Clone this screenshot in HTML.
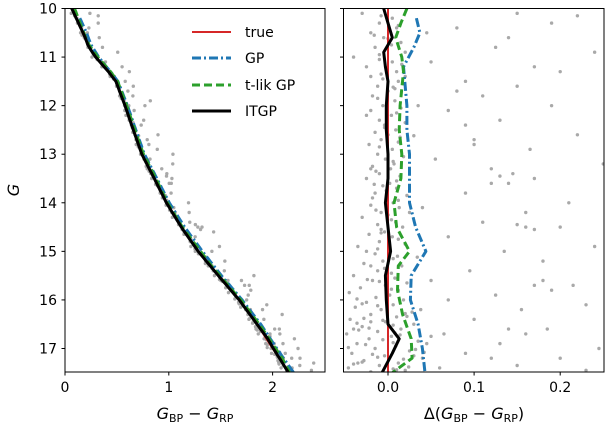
<!DOCTYPE html>
<html><head><meta charset="utf-8"><style>
html,body{margin:0;padding:0;background:#fff;}
svg{display:block;font-family:"DejaVu Sans","Liberation Sans",sans-serif;}
</style></head><body>
<svg id="chart" width="606" height="430" viewBox="0 0 606 430" xmlns="http://www.w3.org/2000/svg">
<defs>
<clipPath id="clipL"><rect x="65" y="8" width="260" height="364"/></clipPath>
<clipPath id="clipR"><rect x="343.5" y="8" width="260.5" height="364"/></clipPath>
</defs>
<g id="layer"></g>
</svg>
<script>
// Base (true) sequence: G vs colour
const baseG = [10,10.5,10.75,11,11.3,11.5,12,12.5,13,13.5,14,14.5,15,15.5,16,16.5,17,17.5];
const baseC = [0.07,0.17,0.22,0.30,0.42,0.49,0.58,0.66,0.74,0.86,0.98,1.12,1.28,1.48,1.68,1.85,2.0,2.16];
// Offsets relative to true
const trueG = [10,11,12,13,14,15,16,17,17.5];
const trueD = [0,0,0,0,0,0,0,0,0];
const itgpG = [10,10.3,10.6,10.9,11.2,11.5,12,12.5,13,13.5,14,14.5,15,15.5,16,16.5,16.8,17.1,17.5];
const itgpD = [-0.005,0.0,0.005,-0.005,-0.003,0.0,-0.002,-0.002,0.0,0.0,-0.003,0.0,0.003,-0.003,-0.002,0.0,0.013,0.005,-0.007];
const tlikG = [10,10.3,10.6,11,11.3,12,12.5,13,13.5,14,14.5,15,15.3,15.8,16.3,16.8,17.2,17.5];
const tlikD = [0.022,0.015,0.009,0.016,0.018,0.014,0.013,0.016,0.015,0.007,0.01,0.025,0.012,0.011,0.017,0.027,0.028,0.005];
const gpG = [10.2,10.5,10.8,11.2,11.6,12,12.5,13,13.5,14,14.5,15,15.5,16,16.5,17,17.5];
const gpD = [0.033,0.037,0.030,0.018,0.020,0.022,0.022,0.025,0.025,0.025,0.032,0.044,0.027,0.026,0.035,0.040,0.043];
// Scatter: magnitude and colour residual
const starG = [10.1,10.2,10.3,10.4,10.5,10.6,10.7,10.8,10.9,11.0,11.05,11.1,11.2,11.3,11.35,11.4,11.5,11.6,11.7,11.8,11.9,12.0,12.05,12.1,12.2,12.3,12.35,12.4,12.5,12.55,12.6,12.7,12.75,12.8,12.9,13.0,13.05,13.1,13.2,13.25,13.3,13.4,13.45,13.5,13.6,13.65,13.7,13.8,13.85,13.9,14.0,14.05,14.1,14.2,14.25,14.3,14.4,14.45,14.5,14.6,14.65,14.7,14.8,14.85,14.9,15.0,15.05,15.1,15.2,15.25,15.3,15.4,15.45,15.5,15.55,15.6,15.65,15.7,15.75,15.8,15.85,15.9,15.95,16.0,16.05,16.1,16.15,16.2,16.25,16.3,16.35,16.4,16.45,16.5,16.55,16.6,16.65,16.7,16.75,16.8,16.85,16.9,16.95,17.0,17.05,17.1,17.15,17.2,17.25,17.3,17.35,17.4,17.45,17.48,16.6,16.9,17.3,16.2,15.3,14.2,13.3,12.2,11.4,16.75,17.15,16.45,17.42,15.0,13.9,
10.15,10.35,10.55,10.75,10.95,11.15,11.45,11.65,11.85,12.15,12.45,12.65,12.85,13.15,13.35,13.55,13.75,13.95,14.15,14.35,14.55,14.75,14.95,15.15,15.35,15.58,15.78,15.98,16.12,16.28,16.38,16.52,16.62,16.72,16.82,16.92,17.02,17.12,17.22,17.32,17.44,16.08,16.34,16.58,16.88,17.18,17.38,15.62,15.12,14.62,13.62,12.62,11.62,10.62,16.42,16.68,16.98,17.28,17.08,16.48,
10.1,10.15,10.3,10.4,10.6,10.8,10.9,11.1,11.2,11.3,11.5,11.6,11.8,12.0,12.0,12.1,12.3,12.6,12.8,12.9,13.1,13.2,13.4,13.5,13.6,13.8,14.0,14.1,14.2,14.4,14.5,14.7,14.9,15.0,15.2,15.4,15.6,15.7,15.9,16.0,16.1,16.2,16.4,16.6,16.7,16.9,17.0,17.1,17.2,17.35,17.4,17.45,10.5,11.9,13.0,14.6,15.5,16.3,16.8,17.3,
13.3,13.45,13.6,14.5,14.55,14.45,15.6,15.7,15.8,16.6,16.7,17.2,12.4,12.7,11.7];
const starD = [-0.03,0.005,-0.01,0.01,-0.02,-0.005,0.015,-0.015,0.02,-0.04,-0.01,0.005,-0.025,0.01,-0.008,-0.02,0.012,-0.012,0.0,-0.018,0.008,-0.006,0.015,-0.02,0.004,-0.01,0.02,-0.004,0.009,-0.015,0.0,-0.008,0.012,-0.022,0.005,-0.012,0.018,-0.003,0.007,-0.018,0.003,-0.01,0.014,-0.025,0.002,-0.006,0.01,-0.015,0.022,-0.002,0.006,-0.02,0.013,-0.008,0.0,-0.03,0.009,-0.012,0.017,-0.004,-0.022,0.005,-0.01,0.02,-0.035,0.001,-0.015,0.011,-0.006,-0.028,0.016,-0.012,0.004,-0.04,0.008,-0.018,0.022,-0.003,-0.032,0.012,-0.045,0.002,-0.014,0.018,-0.025,0.006,-0.038,-0.008,0.028,-0.02,0.01,-0.044,-0.003,0.03,-0.03,0.015,-0.012,-0.048,0.004,-0.022,0.035,-0.036,0.009,-0.015,0.025,-0.042,-0.004,0.04,-0.028,0.012,-0.01,-0.046,0.02,-0.02,-0.04,0.045,-0.035,0.038,-0.02,0.025,-0.02,-0.025,0.02,0.05,0.03,-0.02,0.006,-0.025,-0.018,
-0.008,0.012,-0.016,0.004,-0.01,0.016,-0.006,0.008,-0.012,0.01,-0.004,0.014,-0.01,0.006,-0.014,0.01,-0.002,0.012,-0.014,0.004,-0.008,0.012,-0.012,0.006,-0.004,-0.024,0.004,-0.036,-0.012,0.02,-0.028,0.006,-0.034,0.014,-0.006,-0.026,0.032,-0.018,0.018,-0.04,0.01,-0.03,0.022,-0.022,0.006,-0.012,0.024,-0.01,0.034,-0.008,-0.016,0.03,0.006,0.0,-0.006,0.008,-0.046,-0.03,0.042,-0.036,
0.15,0.22,0.19,0.08,0.14,0.125,0.24,0.05,0.17,0.2,0.09,0.15,0.11,0.035,0.19,0.07,0.13,0.22,0.1,0.165,0.055,0.25,0.145,0.17,0.12,0.09,0.21,0.04,0.16,0.11,0.2,0.07,0.24,0.135,0.18,0.095,0.05,0.215,0.125,0.07,0.23,0.155,0.1,0.185,0.065,0.13,0.245,0.09,0.2,0.15,0.06,0.23,0.045,0.26,0.3,0.28,0.34,0.31,0.27,0.3,
0.12,0.13,0.14,0.16,0.17,0.15,0.18,0.17,0.19,0.14,0.16,0.12,0.09,0.1,0.08];

const NS='http://www.w3.org/2000/svg';
const layer=document.getElementById('layer');
const yS=g=>8.5+(g-10)*48.57;
const xL=c=>65+c*103.8;
const xR=d=>388+d*861;
function interp(xs,ys,x){
  if(x<=xs[0]) return ys[0]+(ys[1]-ys[0])*(x-xs[0])/(xs[1]-xs[0]);
  for(let i=1;i<xs.length;i++){ if(x<=xs[i]){const t=(x-xs[i-1])/(xs[i]-xs[i-1]);return ys[i-1]+t*(ys[i]-ys[i-1]);} }
  const n=xs.length;return ys[n-1]+(ys[n-1]-ys[n-2])*(x-xs[n-1])/(xs[n-1]-xs[n-2]);
}
function el(tag,attrs,parent){const e=document.createElementNS(NS,tag);for(const k in attrs)e.setAttribute(k,attrs[k]);(parent||layer).appendChild(e);return e;}
function txt(s,x,y,attrs,parent){const t=el('text',Object.assign({x:x,y:y,'font-size':14,fill:'#000'},attrs),parent);t.innerHTML=s;return t;}

const gL=el('g',{'clip-path':'url(#clipL)'});


const gR=el('g',{'clip-path':'url(#clipR)'});



for(let i=0;i<starG.length;i++){
  const c=interp(baseG,baseC,starG[i])+starD[i];
  const p=el('circle',{cx:xL(c),cy:yS(starG[i]),r:1.7,fill:'#a9a9a9'},gL);
  
  
  const q=el('circle',{cx:xR(starD[i]),cy:yS(starG[i]),r:1.7,fill:'#a9a9a9'},gR);
  
  
}
function pathOf(G,D,left){
  // densify along G so the left-panel curve follows the base sequence
  let d='';let first=true;
  const g0=G[0],g1=G[G.length-1];
  const n=Math.max(2,Math.round((g1-g0)/0.05));
  const samples=[];
  for(let k=0;k<=n;k++)samples.push(g0+(g1-g0)*k/n);
  const pts=left?samples:G;
  for(let i=0;i<pts.length;i++){
    const g=pts[i];
    const dv=left?interp(G,D,g):D[i];
    const x=left?xL(interp(baseG,baseC,g)+dv):xR(dv);
    d+=(first?'M':'L')+x.toFixed(1)+','+yS(g).toFixed(1);first=false;
  }
  return d;
}
const series=[
  {name:'true',G:trueG,D:trueD,stroke:'#d62728',dash:'',w:2},
  {name:'gp',G:gpG,D:gpD,stroke:'#1f77b4',dash:'9,3,2,3',w:3},
  {name:'tlik-gp',G:tlikG,D:tlikD,stroke:'#2ca02c',dash:'8,4',w:3},
  {name:'itgp',G:itgpG,D:itgpD,stroke:'#000',dash:'',w:3},
];
series.forEach(s=>{
  const a=el('path',{d:pathOf(s.G,s.D,true),fill:'none',stroke:s.stroke,'stroke-width':s.w,'stroke-dasharray':s.dash,'stroke-linejoin':'round'},gL);
  
  
  const b=el('path',{d:pathOf(s.G,s.D,false),fill:'none',stroke:s.stroke,'stroke-width':s.w,'stroke-dasharray':s.dash,'stroke-linejoin':'round'},gR);
  
  
});

const f1=el('rect',{x:65,y:8.5,width:260,height:363.5,fill:'none',stroke:'#000','stroke-width':1});


const f2=el('rect',{x:343.5,y:8.5,width:260.5,height:363.5,fill:'none',stroke:'#000','stroke-width':1});



const yTicks=[10,11,12,13,14,15,16,17];
yTicks.forEach(v=>{
  const y=yS(v);
  el('line',{x1:61.5,x2:65,y1:y,y2:y,stroke:'#000'});
  el('line',{x1:340,x2:343.5,y1:y,y2:y,stroke:'#000'});
  const t=txt(String(v),57,y+5,{'text-anchor':'end'});
  
  
});
const xTicksL=[0,1,2];
xTicksL.forEach(v=>{
  const x=xL(v);
  el('line',{x1:x,x2:x,y1:372,y2:375.5,stroke:'#000'});
  const t=txt(String(v),x,392,{'text-anchor':'middle'});
  
  
});
const xTicksR=[0,0.1,0.2];
xTicksR.forEach(v=>{
  const x=xR(v);
  el('line',{x1:x,x2:x,y1:372,y2:375.5,stroke:'#000'});
  const t=txt(v.toFixed(1),x,392,{'text-anchor':'middle'});
  
  
});
let t=txt('<tspan font-style="italic">G</tspan>',0,0,{'font-size':16,transform:'translate(19,190) rotate(-90)','text-anchor':'middle'});


t=txt('<tspan font-style="italic">G</tspan><tspan font-size="11" dy="3">BP</tspan><tspan dy="-3"> − </tspan><tspan font-style="italic">G</tspan><tspan font-size="11" dy="3">RP</tspan>',195,419,{'font-size':16,'text-anchor':'middle'});


t=txt('Δ(<tspan font-style="italic">G</tspan><tspan font-size="11" dy="3">BP</tspan><tspan dy="-3"> − </tspan><tspan font-style="italic">G</tspan><tspan font-size="11" dy="3">RP</tspan><tspan dy="-3">)</tspan>',474,419,{'font-size':16,'text-anchor':'middle'});



const leg=el('g',{});


const legY=[32,58,85,111];
const legLabels=['true','GP','t-lik GP','ITGP'];
series.forEach((s,i)=>{
  el('line',{x1:192,x2:231,y1:legY[i],y2:legY[i],stroke:s.stroke,'stroke-width':s.w,'stroke-dasharray':s.dash},leg);
  const lt=txt(legLabels[i],245,legY[i]+5,{},leg);
  
  
});
</script>
</body></html>
